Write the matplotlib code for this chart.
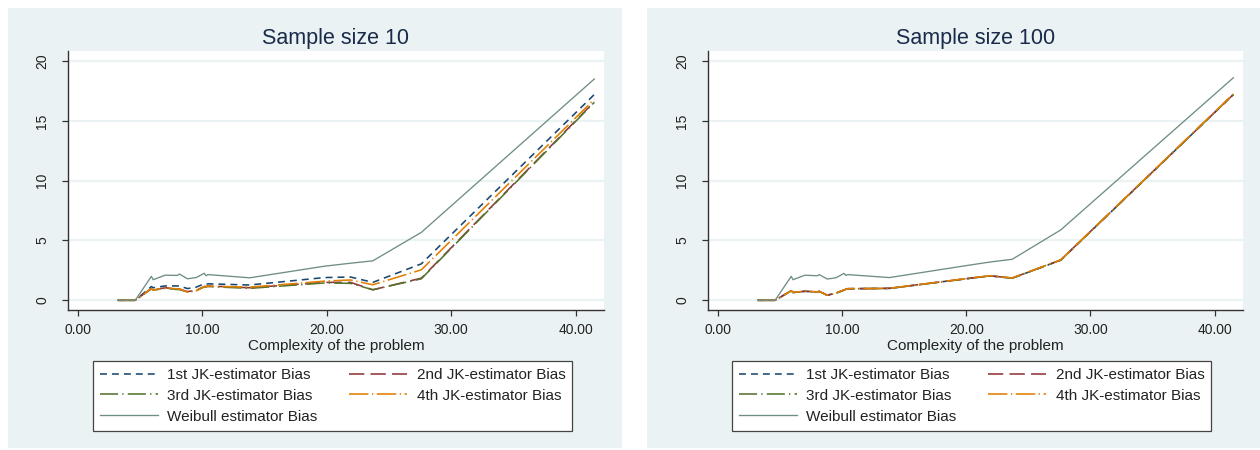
import matplotlib
matplotlib.use("Agg")
import matplotlib.pyplot as plt
from matplotlib.patches import Rectangle
from matplotlib.lines import Line2D

plt.rcParams['font.family'] = ['Liberation Sans', 'DejaVu Sans']
plt.rcParams['lines.scale_dashes'] = False

# ---------------- data ----------------
complexity = [3.2, 4.6, 5.9, 6.05, 7.0, 8.0, 8.15, 8.8, 9.5, 10.15, 10.3, 10.45,
              13.8, 19.8, 21.9, 23.7, 27.6, 41.5]

# Sample size 10
jk1_10 = [0, 0, 1.15, 1.05, 1.2, 1.2, 1.2, 0.98, 1.1, 1.38, 1.35, 1.38, 1.28, 1.9, 1.95, 1.5, 3.05, 17.2]
jk2_10 = [0, 0, 1.0, 0.85, 1.05, 0.95, 0.95, 0.72, 0.85, 1.15, 1.15, 1.2, 1.05, 1.5, 1.5, 0.88, 1.85, 16.6]
jk3_10 = [0, 0, 0.95, 0.85, 1.0, 0.9, 0.9, 0.7, 0.8, 1.12, 1.12, 1.15, 1.0, 1.45, 1.42, 0.88, 1.8, 16.55]
jk4_10 = [0, 0, 0.98, 0.85, 1.05, 0.95, 0.95, 0.7, 0.8, 1.15, 1.15, 1.18, 1.1, 1.6, 1.7, 1.3, 2.55, 16.8]
weib_10 = [0, 0, 2.0, 1.72, 2.1, 2.08, 2.2, 1.8, 1.9, 2.26, 2.05, 2.15, 1.88, 2.85, 3.1, 3.3, 5.68, 18.5]

# Sample size 100
jk1_100 = [0, 0, 0.8, 0.65, 0.75, 0.7, 0.75, 0.42, 0.6, 0.85, 0.92, 0.97, 1.0, 1.78, 2.04, 1.85, 3.35, 17.2]
jk2_100 = [0, 0, 0.8, 0.66, 0.76, 0.7, 0.75, 0.43, 0.6, 0.86, 0.93, 0.97, 1.0, 1.78, 2.05, 1.86, 3.37, 17.2]
jk3_100 = [0, 0, 0.79, 0.65, 0.75, 0.7, 0.74, 0.42, 0.6, 0.85, 0.92, 0.96, 0.99, 1.77, 2.04, 1.85, 3.36, 17.2]
jk4_100 = [0, 0, 0.8, 0.66, 0.76, 0.71, 0.75, 0.43, 0.61, 0.86, 0.93, 0.97, 1.0, 1.79, 2.06, 1.87, 3.38, 17.25]
weib_100 = [0, 0, 2.0, 1.72, 2.1, 2.05, 2.15, 1.78, 1.88, 2.25, 2.08, 2.15, 1.9, 2.87, 3.2, 3.43, 5.88, 18.6]

labels = ["1st JK-estimator Bias", "2nd JK-estimator Bias", "3rd JK-estimator Bias",
          "4th JK-estimator Bias", "Weibull estimator Bias"]
titles = ["Sample size 10", "Sample size 100"]
yticks = [0, 5, 10, 15, 20]
xticks = [0, 10, 20, 30, 40]

# ---------------- style ----------------
colors = ["#1A476F", "#90353B", "#55752F", "#E37E00", "#6E8E84"]
dashes = [(0, (5.0, 3.6)), (0, (11, 4.5)), (0, (13, 3, 1, 3)), (0, (14, 2.5, 1, 2.5)), "-"]
BG = "#EAF2F3"
W, H = 1260, 450

fig = plt.figure(figsize=(W / 100, H / 100), dpi=100)
fig.patch.set_facecolor("white")

def fx(px):
    return px / W

def fy(py):
    return 1 - py / H

panels = [
    dict(bg=(8, 8, 622, 448), ax=(68, 51, 604, 310), leg=(93, 361),
         series=[jk1_10, jk2_10, jk3_10, jk4_10, weib_10]),
    dict(bg=(647, 8, 1260, 448), ax=(708, 51, 1243, 310), leg=(732, 361),
         series=[jk1_100, jk2_100, jk3_100, jk4_100, weib_100]),
]

for i, p in enumerate(panels):
    x0, y0, x1, y1 = p["bg"]
    fig.patches.append(Rectangle((fx(x0), fy(y1)), fx(x1 - x0), (y1 - y0) / H,
                                 transform=fig.transFigure, facecolor=BG,
                                 edgecolor="none", zorder=-10))
    a0, b0, a1, b1 = p["ax"]
    ax = fig.add_axes([fx(a0), fy(b1), fx(a1 - a0), (b1 - b0) / H])
    ax.set_zorder(2)
    ax.set_facecolor("white")
    for ys, c, ls in zip(p["series"], colors, dashes):
        lw = 1.15 if ls != "-" else 0.95
        ax.plot(complexity, ys, color=c, linestyle=ls, linewidth=lw)
    ax.set_xlim(-0.8, 42.28)
    ax.set_ylim(-0.81, 20.84)
    ax.set_yticks(yticks)
    ax.set_xticks(xticks)
    ax.set_xticklabels([f"{t:.2f}" for t in xticks])
    ax.set_yticklabels([str(t) for t in yticks], rotation=90, va="center")
    ax.grid(axis="y", color=BG, linewidth=1.6)
    ax.set_axisbelow(True)
    for s in ["top", "right"]:
        ax.spines[s].set_visible(False)
    for s in ["left", "bottom"]:
        ax.spines[s].set_color("#333333")
        ax.spines[s].set_linewidth(1.0)
    ax.tick_params(axis="both", direction="out", length=4.5, width=0.9,
                   color="#333333", labelsize=10, labelcolor="#222222")
    ax.tick_params(axis="x", pad=5)
    ax.tick_params(axis="y", pad=9)
    ax.set_title(titles[i], fontsize=15.5, color="#1A2A4A", pad=5)
    ax.set_xlabel("Complexity of the problem", fontsize=11, color="#222222", labelpad=1)

    handles = [Line2D([], [], color=c, linestyle=ls, linewidth=1.15 if ls != "-" else 0.95)
               for c, ls in zip(colors, dashes)]
    order = [0, 2, 4, 1, 3]
    lx, ly = p["leg"]
    leg = fig.legend([handles[k] for k in order], [labels[k] for k in order],
                     loc="upper left", bbox_to_anchor=(fx(lx), fy(ly)),
                     bbox_transform=fig.transFigure, ncol=2, fontsize=11,
                     frameon=True, fancybox=False, handlelength=3.8,
                     handletextpad=0.6, columnspacing=2.1, labelspacing=0.45,
                     borderpad=0.45, borderaxespad=0)
    leg.set_zorder(3)
    leg.get_frame().set_edgecolor("#444444")
    leg.get_frame().set_linewidth(0.9)
    leg.get_frame().set_facecolor("white")
    leg.get_frame().set_alpha(1)
    for t in leg.get_texts():
        t.set_color("#222222")

fig.savefig("out.png", dpi=100, facecolor="white")
